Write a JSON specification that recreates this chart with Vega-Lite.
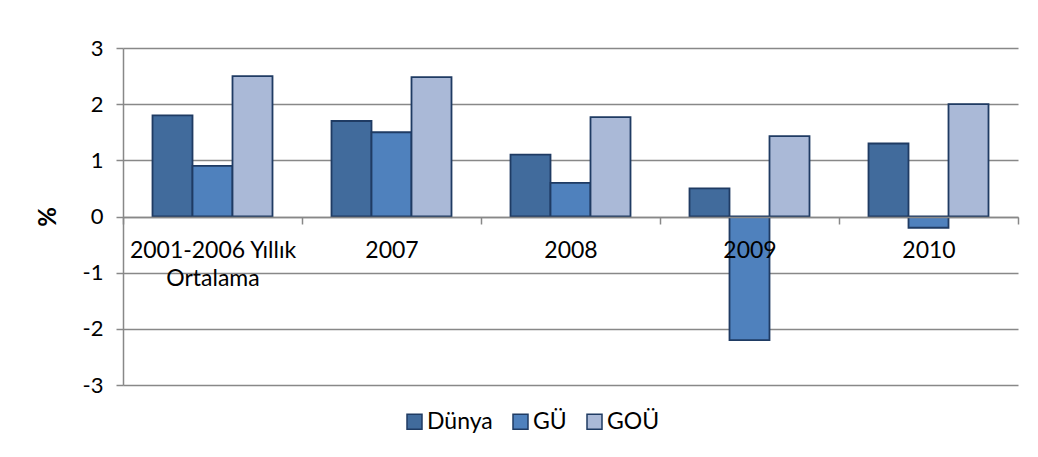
{
  "$schema": "https://vega.github.io/schema/vega-lite/v6.json",
  "width": 895,
  "height": 337,
  "autosize": {"type": "none"},
  "padding": {"left": 123, "top": 48, "right": 20, "bottom": 72},
  "background": "white",
  "config": {
    "view": {"stroke": null},
    "font": "Lato",
    "axis": {"labelFont": "Lato", "titleFont": "Lato"},
    "legend": {"labelFont": "Lato"}
  },
  "data": {
    "values": [
      {"kategori": "2001-2006 Yıllık Ortalama", "seri": "Dünya", "deger": 1.8},
      {"kategori": "2001-2006 Yıllık Ortalama", "seri": "GÜ", "deger": 0.9},
      {"kategori": "2001-2006 Yıllık Ortalama", "seri": "GOÜ", "deger": 2.5},
      {"kategori": "2007", "seri": "Dünya", "deger": 1.7},
      {"kategori": "2007", "seri": "GÜ", "deger": 1.5},
      {"kategori": "2007", "seri": "GOÜ", "deger": 2.48},
      {"kategori": "2008", "seri": "Dünya", "deger": 1.1},
      {"kategori": "2008", "seri": "GÜ", "deger": 0.6},
      {"kategori": "2008", "seri": "GOÜ", "deger": 1.77},
      {"kategori": "2009", "seri": "Dünya", "deger": 0.5},
      {"kategori": "2009", "seri": "GÜ", "deger": -2.2},
      {"kategori": "2009", "seri": "GOÜ", "deger": 1.43},
      {"kategori": "2010", "seri": "Dünya", "deger": 1.3},
      {"kategori": "2010", "seri": "GÜ", "deger": -0.2},
      {"kategori": "2010", "seri": "GOÜ", "deger": 2.0}
    ]
  },
  "mark": {"type": "bar", "stroke": "#1F3B63", "strokeWidth": 1.8},
  "encoding": {
    "x": {
      "field": "kategori",
      "type": "nominal",
      "sort": ["2001-2006 Yıllık Ortalama", "2007", "2008", "2009", "2010"],
      "scale": {"paddingInner": 0, "paddingOuter": 0},
      "axis": {
        "title": null,
        "offset": -168,
        "labelAngle": 0,
        "labelFontSize": 23,
        "labelColor": "#000000",
        "labelPadding": 15,
        "labelLineHeight": 28,
        "labelLimit": 400,
        "labelExpr": "datum.label == '2001-2006 Yıllık Ortalama' ? ['2001-2006 Yıllık', 'Ortalama'] : datum.label",
        "tickBand": "extent",
        "tickSize": 7,
        "tickColor": "#888888",
        "tickWidth": 1.5,
        "domainColor": "#888888",
        "domainWidth": 1.5,
        "zindex": 1
      }
    },
    "xOffset": {
      "field": "seri",
      "type": "nominal",
      "sort": ["Dünya", "GÜ", "GOÜ"],
      "scale": {"paddingInner": 0, "paddingOuter": 0.7375}
    },
    "y": {
      "field": "deger",
      "type": "quantitative",
      "scale": {"domain": [-3, 3], "nice": false},
      "axis": {
        "title": "%",
        "values": [-3, -2, -1, 0, 1, 2, 3],
        "labelExpr": "datum.value < 0 ? '-' + abs(datum.value) : '' + datum.value",
        "titleFontSize": 24,
        "titleFontWeight": "bold",
        "titleColor": "#000000",
        "titlePadding": 22,
        "labelFontSize": 22,
        "labelColor": "#000000",
        "labelPadding": 13,
        "tickSize": 7,
        "tickColor": "#888888",
        "tickWidth": 1.5,
        "gridColor": "#888888",
        "gridWidth": 1.5,
        "domainColor": "#888888",
        "domainWidth": 1.5
      }
    },
    "color": {
      "field": "seri",
      "type": "nominal",
      "sort": ["Dünya", "GÜ", "GOÜ"],
      "scale": {"domain": ["Dünya", "GÜ", "GOÜ"], "range": ["#416B9C", "#4F81BD", "#AAB9D7"]},
      "legend": {
        "title": null,
        "orient": "none",
        "legendX": 280,
        "legendY": 362,
        "direction": "horizontal",
        "symbolType": "square",
        "symbolSize": 225,
        "symbolStrokeColor": "#1F3B63",
        "symbolStrokeWidth": 1.5,
        "labelFontSize": 23,
        "labelColor": "#000000",
        "columnPadding": 16,
        "labelOffset": 1
      }
    }
  }
}
